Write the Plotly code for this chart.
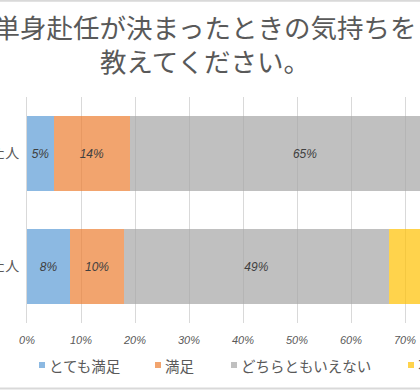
import plotly.graph_objects as go

# ---- data ----
categories = ["自分で希望した人", "会社の命令で決まった人"]
series_names = ["とても満足", "満足", "どちらともいえない", "不満", "とても不満"]
very_satisfied = [5, 8]
satisfied = [14, 10]
neutral = [65, 49]
dissatisfied = [11, 23]
very_dissatisfied = [5, 10]
tick_values = [0, 10, 20, 30, 40, 50, 60, 70, 80, 90, 100]
tick_labels = ["0%", "10%", "20%", "30%", "40%", "50%", "60%", "70%", "80%", "90%", "100%"]

series_values = [very_satisfied, satisfied, neutral, dissatisfied, very_dissatisfied]
colors = ["rgba(91,155,213,0.7)", "rgba(237,125,49,0.7)", "rgba(165,165,165,0.7)",
          "rgba(255,192,0,0.7)", "rgba(68,114,196,0.7)"]

W, H = 420, 390
ML, MR, MT, MB = 27, 0, 97, 67
PW, PH = W - ML - MR, H - MT - MB

def px_x(px):
    return (px - ML) / PW

def px_y(py):
    return (H - MB - py) / PH

JP = "Noto Sans CJK JP"
GREY = "#595959"

fig = go.Figure()
for name, vals, col in zip(series_names, series_values, colors):
    fig.add_trace(go.Bar(
        y=categories, x=vals, orientation="h", name=name,
        marker=dict(color=col, line=dict(width=0)),
        text=[f"{v}%" for v in vals], textposition="inside", textangle=0,
        insidetextanchor="middle", constraintext="none",
        textfont=dict(family="Liberation Sans", size=12, color="#404040", style="italic"),
        showlegend=False,
    ))

# legend drawn as marker squares + text
legend_px = [39, 155, 231, 408, 470]
ann = []
shapes = []
for name, col, x0 in zip(series_names, colors, legend_px):
    shapes.append(dict(type="rect", xref="paper", yref="paper",
                       x0=px_x(x0), x1=px_x(x0 + 6), y0=px_y(368), y1=px_y(362),
                       fillcolor=col, line=dict(width=0)))
    ann.append(dict(text=name, xref="paper", yref="paper", x=px_x(x0 + 8), y=px_y(365),
                    xanchor="left", yanchor="middle", showarrow=False,
                    font=dict(family=JP, size=14.5, color=GREY)))

# chart border (top/bottom edges visible in crop)
for yb in (0.75, 388.5):
    shapes.append(dict(type="line", xref="paper", yref="paper",
                       x0=px_x(-5), x1=px_x(W + 5), y0=px_y(yb), y1=px_y(yb),
                       line=dict(color="#d9d9d9", width=2)))

fig.update_layout(
    width=W, height=H,
    margin=dict(l=ML, r=MR, t=MT, b=MB, pad=0, autoexpand=False),
    paper_bgcolor="white", plot_bgcolor="white",
    barmode="stack", bargap=0.345,
    title=dict(text="単身赴任が決まったときの気持ちを<br>教えてください。",
               x=205 / W, xref="container", xanchor="center",
               y=1 - 37.5 / H, yref="container", yanchor="top",
               font=dict(family=JP, size=26.5, color=GREY)),
    xaxis=dict(range=[0, PW / 5.4], tickvals=tick_values, ticktext=tick_labels,
               showgrid=True, gridcolor="#d9d9d9", gridwidth=1, zeroline=False,
               showline=False, ticks="", ticklabelstandoff=9, automargin=False,
               tickfont=dict(family="Liberation Sans", size=11, color=GREY, style="italic")),
    yaxis=dict(autorange="reversed", showgrid=False, zeroline=False,
               showline=True, linecolor="#d9d9d9", linewidth=1, ticks="",
               ticklabelstandoff=4, automargin=False,
               tickfont=dict(family=JP, size=14, color=GREY)),
    annotations=ann, shapes=shapes,
    showlegend=False,
)

fig.write_html("out.html", config={"displayModeBar": False},
               post_script="document.body.style.margin='0';document.body.style.overflow='hidden';")
